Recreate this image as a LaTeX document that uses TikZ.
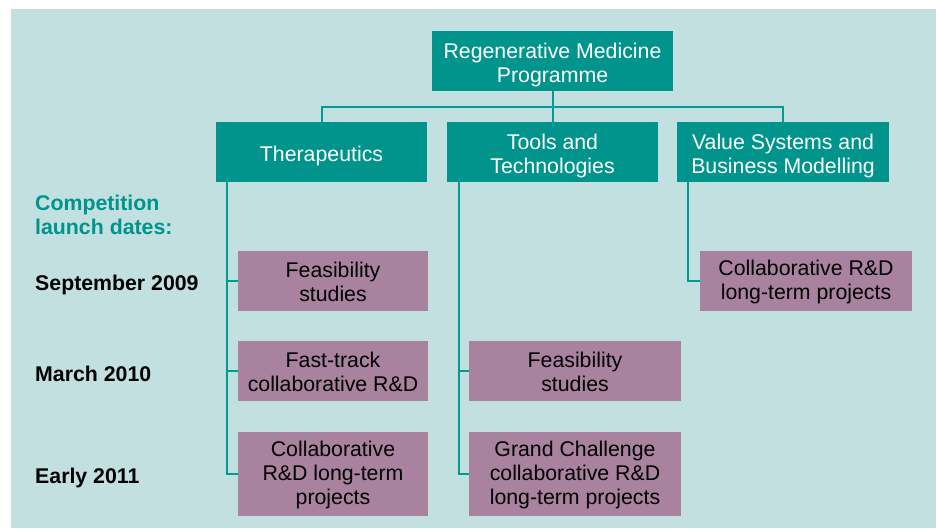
\documentclass[tikz,border=0pt]{standalone}
\usepackage{fontspec}
\setmainfont{Liberation Sans}
\usetikzlibrary{calc}
\definecolor{bgc}{HTML}{C2E0E0}
\definecolor{tealbox}{HTML}{00948C}
\definecolor{tealline}{HTML}{009C94}
\definecolor{purp}{HTML}{A8829E}
\begin{document}
\begin{tikzpicture}[x=1pt,y=-1pt,
  tbox/.style={fill=tealbox,inner sep=0pt},
  pbox/.style={fill=purp,inner sep=0pt},
  ttxt/.style={text=white,align=center,inner sep=0pt,yshift=-3.5pt,font=\fontsize{21.3}{24}\selectfont},
  ptxt/.style={text=black,align=center,inner sep=0pt,yshift=-1pt,font=\fontsize{21.3}{24}\selectfont},
  conn/.style={draw=tealline,line width=2pt},
  datelbl/.style={anchor=west,inner sep=0pt,font=\bfseries\fontsize{21.3}{24}\selectfont}]
\useasboundingbox (0,0) rectangle (936,528);
\fill[bgc] (11,9) rectangle (936,528);
% level 1
\node[tbox,minimum width=241pt,minimum height=60pt] (top) at (552.5,61) {};
\node[ttxt] (topt) at (top.center) {Regenerative Medicine\\Programme};
% level 2
\node[tbox,minimum width=211pt,minimum height=60pt] (ther) at (321.5,152) {};
\node[ttxt] (thert) at (ther.center) {Therapeutics};
\node[tbox,minimum width=211pt,minimum height=60pt] (tools) at (552.5,152) {};
\node[ttxt] (toolst) at (tools.center) {Tools and\\Technologies};
\node[tbox,minimum width=212pt,minimum height=60pt] (val) at (783,152) {};
\node[ttxt] (valt) at (val.center) {Value Systems and\\Business Modelling};
% purple
\node[pbox,minimum width=190pt,minimum height=60pt] (t1) at (333,281) {};
\node[ptxt] (t1t) at (t1.center) {Feasibility\\studies};
\node[pbox,minimum width=190pt,minimum height=60pt] (t2) at (333,371) {};
\node[ptxt] (t2t) at (t2.center) {Fast-track\\collaborative R\&D};
\node[pbox,minimum width=190pt,minimum height=84pt] (t3) at (333,474) {};
\node[ptxt] (t3t) at (t3.center) {Collaborative\\R\&D long-term\\projects};
\node[pbox,minimum width=212pt,minimum height=60pt] (o1) at (575,371) {};
\node[ptxt] (o1t) at (o1.center) {Feasibility\\studies};
\node[pbox,minimum width=212pt,minimum height=84pt] (o2) at (575,474) {};
\node[ptxt] (o2t) at (o2.center) {Grand Challenge\\collaborative R\&D\\long-term projects};
\node[pbox,minimum width=212pt,minimum height=60pt] (v1) at (806,281) {};
\node[ptxt] (v1t) at (v1.center) {Collaborative R\&D\\long-term projects};
% connectors
\coordinate (hl) at (552.5,107);
\draw[conn] (top.south) -- (tools.north);
\draw[conn] (ther.north) |- (hl) -| (val.north);
\coordinate (tx) at ($(ther.south west)+(11,0)$);
\coordinate (ox) at ($(tools.south west)+(12,0)$);
\coordinate (vx) at ($(val.south west)+(11,0)$);
\draw[conn] (tx) |- (t3.west);
\draw[conn] (t1.west) -- (t1.west -| tx);
\draw[conn] (t2.west) -- (t2.west -| tx);
\draw[conn] (ox) |- (o2.west);
\draw[conn] (o1.west) -- (o1.west -| ox);
\draw[conn] (vx) |- (v1.west);
% labels
\node[datelbl,text=tealbox,align=left] (comp) at (35,215) {Competition\\launch dates:};
\node[datelbl] (d1) at (35,284.5) {September 2009};
\node[datelbl] (d2) at (35,373.5) {March 2010};
\node[datelbl] (d3) at (35,477.5) {Early 2011};
\end{tikzpicture}
\end{document}
